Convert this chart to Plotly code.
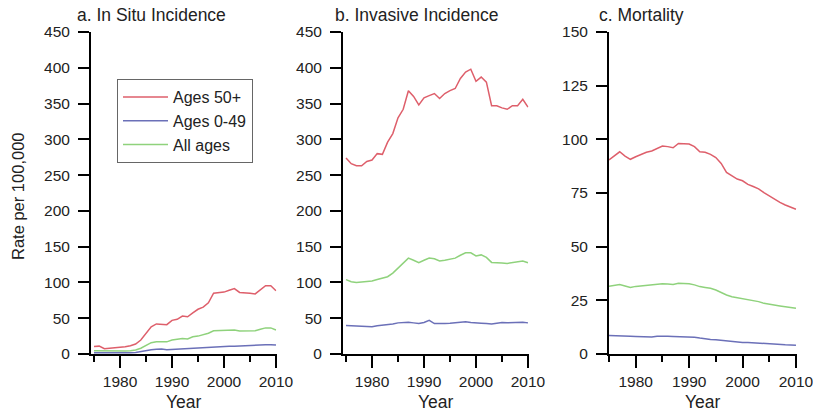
import plotly.graph_objects as go

years = list(range(1975, 2011))

# a. In Situ Incidence
insitu_50 = [10.5, 11, 7.5, 8, 8, 8.8, 10, 11.5, 14, 19.5, 29, 38, 42, 41.5, 41, 47, 48.5, 53, 52, 57.5,
             62.5, 65.5, 71.5, 85, 86, 86.5, 89, 91.5, 86, 86, 85, 84, 89.5, 95.5, 95.5, 88.5]
insitu_049 = [1.9, 1.8, 1.6, 1.5, 1.5, 1.5, 1.6, 1.8, 2.2, 3.5, 5, 6, 6.5, 7, 6, 6.5, 7, 7, 7.5, 8,
              8.5, 9, 9.5, 10.5, 10.5, 10.5, 11, 11, 11.5, 11.5, 12, 12, 13, 13, 13, 12.5]
insitu_all = [4.7, 4.5, 4, 4, 4, 4, 4.2, 4.6, 5.6, 8, 12.5, 15.8, 17, 16.5, 17, 19.5, 20.5, 21.8, 21, 24,
              25, 26.5, 29, 32.5, 32.5, 32.5, 33.5, 33.5, 32, 32, 32, 32.5, 34.5, 36.5, 36.5, 33.5]

# b. Invasive Incidence
inv_50 = [274, 266, 263, 263, 269, 271, 280, 279, 296, 308, 330, 342, 368, 360, 348, 358, 361, 364, 357, 364,
          368, 371, 385, 394, 398, 381, 387, 380, 347, 347, 344, 342, 347, 347, 356, 345]
inv_049 = [40, 39.5, 39, 38, 37.5, 38, 39.5, 40, 40.5, 42, 43.5, 44, 44.5, 43.5, 42.5, 44, 47, 42.5, 42, 42.5,
           43, 43.5, 44, 45, 44, 43, 43, 42.5, 42, 43, 44, 43.5, 44, 45, 44.5, 43.5]
inv_all = [104, 101, 100, 100.5, 101, 102, 104, 106, 108, 113, 120, 126, 134, 131, 127.5, 131, 134, 133, 130, 131,
           133, 134, 138, 141.5, 141.5, 137, 138.5, 135, 128, 128, 127, 126.5, 128, 128.5, 130, 127.5]

# c. Mortality
mort_50 = [90.4, 92.5, 94.2, 92.2, 90.7, 91.9, 93, 94, 94.6, 95.8, 96.9, 96.6, 96.1, 98.1, 98.1, 97.8, 96.6, 94.2,
           94, 93, 91.5, 88.8, 84.6, 83, 81.5, 80.7, 79, 78, 76.9, 75.2, 73.6, 72, 70.6, 69.4, 68.3, 67.4]
mort_049 = [8.6, 8.6, 8.5, 8.4, 8.3, 8.2, 8.1, 8, 7.9, 8.3, 8.4, 8.3, 8.2, 8.1, 8.1, 8, 7.8, 7.4,
            7, 6.8, 6.6, 6.3, 6, 5.7, 5.5, 5.4, 5.4, 5.2, 5, 4.9, 4.7, 4.6, 4.4, 4.3, 4.2, 4.1]
mort_all = [31.5, 32, 32.4, 31.7, 31, 31.5, 31.8, 32.1, 32.2, 32.6, 32.7, 32.6, 32.4, 33, 33, 32.7, 32.2, 31.4,
            31, 30.6, 29.8, 28.6, 27.5, 26.7, 26.2, 26, 25.5, 25, 24.4, 23.6, 23.3, 22.8, 22.4, 22, 21.6, 21.3]

series_names = ["Ages 50+", "Ages 0-49", "All ages"]
panel_titles = ["a. In Situ Incidence", "b. Invasive Incidence", "c. Mortality"]
y_label = "Rate per 100,000"
x_label = "Year"

colors = ["#de5f6b", "#6b70b8", "#8fd27c"]
panels = [
    (insitu_50, insitu_049, insitu_all),
    (inv_50, inv_049, inv_all),
    (mort_50, mort_049, mort_all),
]

W, H = 813, 414
FONT = "Liberation Sans, Arial, sans-serif"
TXT = "#222222"

fig = go.Figure()
for p, data in enumerate(panels):
    ax = "" if p == 0 else str(p + 1)
    for s, vals in enumerate(data):
        fig.add_trace(go.Scatter(
            x=years, y=vals, mode="lines", name=series_names[s],
            line=dict(color=colors[s], width=1.5),
            xaxis="x" + ax, yaxis="y" + ax,
            showlegend=(p == 0), legendrank=s,
        ))

def px_x(v):
    return v / W

def px_y(v):
    return 1 - v / H

x_domains = [(91, 276.5), (343, 528.5), (609, 796.5)]
x_ranges = [(1974.42, 2010.1), (1974.42, 2010.1), (1975.0, 2010.1)]
y_ranges = [(0, 450), (0, 450), (0, 150)]
y_dticks = [50, 50, 25]

layout = dict(
    width=W, height=H, margin=dict(l=0, r=0, t=0, b=0, pad=0), autosize=False,
    paper_bgcolor="white", plot_bgcolor="white",
    font=dict(family=FONT, color=TXT, size=15.5),
    showlegend=True,
    legend=dict(
        x=px_x(117), y=px_y(79), xanchor="left", yanchor="top",
        bordercolor="#666666", borderwidth=1, bgcolor="white",
        font=dict(size=16, family=FONT, color=TXT),
        itemwidth=45, tracegroupgap=0,
    ),
)
for p in range(3):
    ax = "" if p == 0 else str(p + 1)
    layout["xaxis" + ax] = dict(
        domain=[px_x(x_domains[p][0]), px_x(x_domains[p][1])],
        range=list(x_ranges[p]), anchor="y" + ax, automargin=False,
        showgrid=False, zeroline=False, showline=True, linecolor="black", linewidth=2,
        ticks="outside", ticklen=12, tickwidth=2, tickcolor="black",
        tick0=1980, dtick=10, ticklabelstandoff=0, ticklabeloverflow="allow",
        minor=dict(ticks="outside", ticklen=6, tickwidth=2, tickcolor="black", tick0=1975, dtick=10,
                   showgrid=False),
        tickfont=dict(size=15.5, color=TXT),
    )
    layout["yaxis" + ax] = dict(
        domain=[px_y(354), px_y(32)],
        range=list(y_ranges[p]), anchor="x" + ax, automargin=False,
        showgrid=False, zeroline=False, showline=True, linecolor="black", linewidth=2,
        ticks="outside", ticklen=11, tickwidth=2, tickcolor="black",
        tick0=0, dtick=y_dticks[p], ticklabelstandoff=5, ticklabeloverflow="allow",
        tickfont=dict(size=15.5, color=TXT),
    )
fig.update_layout(**layout)

title_x = [75, 333, 597]
for p in range(3):
    fig.add_annotation(text=panel_titles[p], x=px_x(title_x[p]), y=px_y(15), xref="paper", yref="paper",
                       xanchor="left", yanchor="middle", showarrow=False,
                       font=dict(size=17.5, family=FONT, color=TXT))
    cx = (x_domains[p][0] + x_domains[p][1]) / 2
    fig.add_annotation(text=x_label, x=px_x(cx), y=px_y(402), xref="paper", yref="paper",
                       xanchor="center", yanchor="middle", showarrow=False,
                       font=dict(size=17.5, family=FONT, color=TXT))

fig.add_annotation(text=y_label, x=px_x(18), y=px_y(196), xref="paper", yref="paper",
                   xanchor="center", yanchor="middle", textangle=-90, showarrow=False,
                   font=dict(size=16.5, family=FONT, color=TXT))

fig.write_html(
    "out.html",
    config={"responsive": False, "displayModeBar": False},
    post_script="document.documentElement.style.margin='0';document.body.style.margin='0';"
                "document.body.style.padding='0';document.body.style.overflow='hidden';",
)
